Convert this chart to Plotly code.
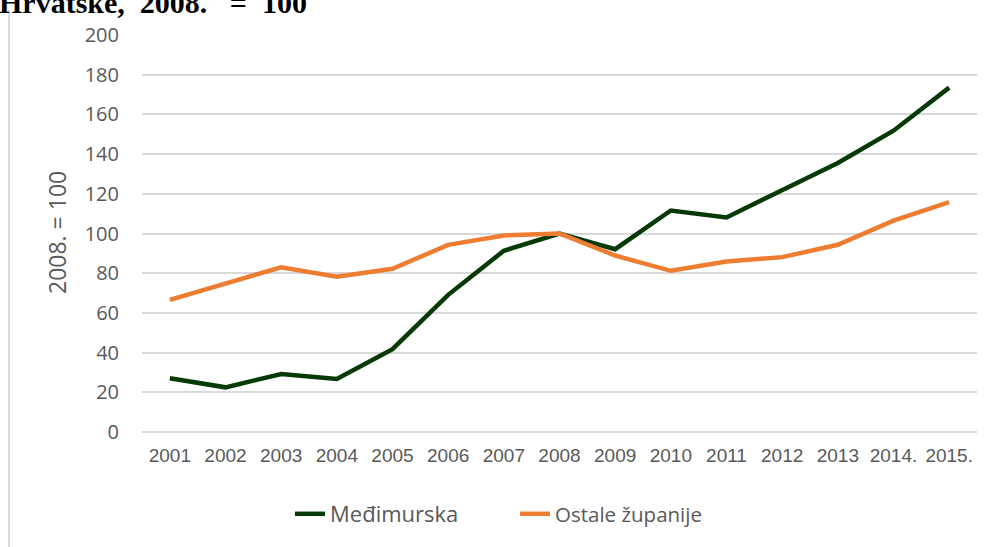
import plotly.graph_objects as go

years = ["2001", "2002", "2003", "2004", "2005", "2006", "2007", "2008",
         "2009", "2010", "2011", "2012", "2013", "2014.", "2015."]
medimurska = [27.1, 22.5, 29.2, 26.7, 41.7, 69.1, 91.3, 100.0,
              92.1, 111.6, 108.1, 122.0, 135.5, 151.8, 173.5]
ostale = [66.6, 74.6, 83.0, 78.2, 82.2, 94.3, 99.0, 100.0,
          88.9, 81.2, 85.9, 88.1, 94.3, 106.5, 115.8]
series_names = ["Međimurska", "Ostale županije"]
y_ticks = [0, 20, 40, 60, 80, 100, 120, 140, 160, 180, 200]

W, H = 995, 547
L, R, T, B = 142, 18, 35, 115
pw, ph = W - L - R, H - T - B

def px(x):
    return (x - L) / pw

def py(y):
    return (H - B - y) / ph

fig = go.Figure()
fig.add_trace(go.Scatter(
    x=years, y=medimurska, mode="lines", name=series_names[0],
    line=dict(color="#053a05", width=4.5),
))
fig.add_trace(go.Scatter(
    x=years, y=ostale, mode="lines",
    name='<span style="font-size:20.5px">' + series_names[1] + "</span>",
    line=dict(color="#ED7D31", width=4.5),
))

fig.update_layout(
    width=W, height=H,
    margin=dict(l=L, r=R, t=T, b=B, pad=0, autoexpand=False),
    paper_bgcolor="white", plot_bgcolor="white",
    showlegend=True,
    legend=dict(
        orientation="h", x=px(290), xanchor="left", y=py(514), yanchor="middle",
        font=dict(family="Open Sans, Noto Sans, sans-serif", size=22, color="#595959"),
        entrywidth=180, itemwidth=30, bgcolor="rgba(0,0,0,0)",
    ),
    xaxis=dict(
        type="category", showgrid=False, zeroline=False, showline=False,
        ticks="", ticklabelstandoff=10, tickangle=0, automargin=False,
        tickfont=dict(family="Liberation Sans, Arial, sans-serif",
                      size=19, color="#595959"),
        range=[-0.5, len(years) - 0.5], fixedrange=True,
    ),
    yaxis=dict(
        range=[0, 200], tickvals=y_ticks, showgrid=True, automargin=False,
        gridcolor="#d9d9d9", gridwidth=1.5, zeroline=True, zerolinecolor="#d9d9d9",
        zerolinewidth=1.5, showline=False, ticks="", ticklabelstandoff=22,
        tickfont=dict(family="Open Sans, Noto Sans, sans-serif", size=20, color="#595959"),
    ),
    annotations=[
        dict(text="2008. = 100", xref="paper", yref="paper", x=px(57), y=py(233),
             textangle=-90, showarrow=False, xanchor="center", yanchor="middle",
             font=dict(family="Open Sans, Noto Sans, sans-serif", size=23, color="#595959")),
        dict(text="<b>Hrvatske,\u00a0\u00a02008.\u00a0\u00a0\u00a0=\u00a0\u00a0100</b>", xref="paper", yref="paper",
             x=px(-3), y=py(21), xanchor="left", yanchor="bottom", showarrow=False,
             font=dict(family="Liberation Serif, Times New Roman, serif", size=30, color="#000000")),
    ],
    shapes=[
        dict(type="line", xref="paper", yref="paper", x0=px(9), x1=px(9), y0=py(10), y1=py(H + 5),
             line=dict(color="#d9d9d9", width=2)),
    ],
)

fig.write_html("out.html", config={"displayModeBar": False},
               post_script="document.body.style.margin='0';document.body.style.overflow='hidden';")
